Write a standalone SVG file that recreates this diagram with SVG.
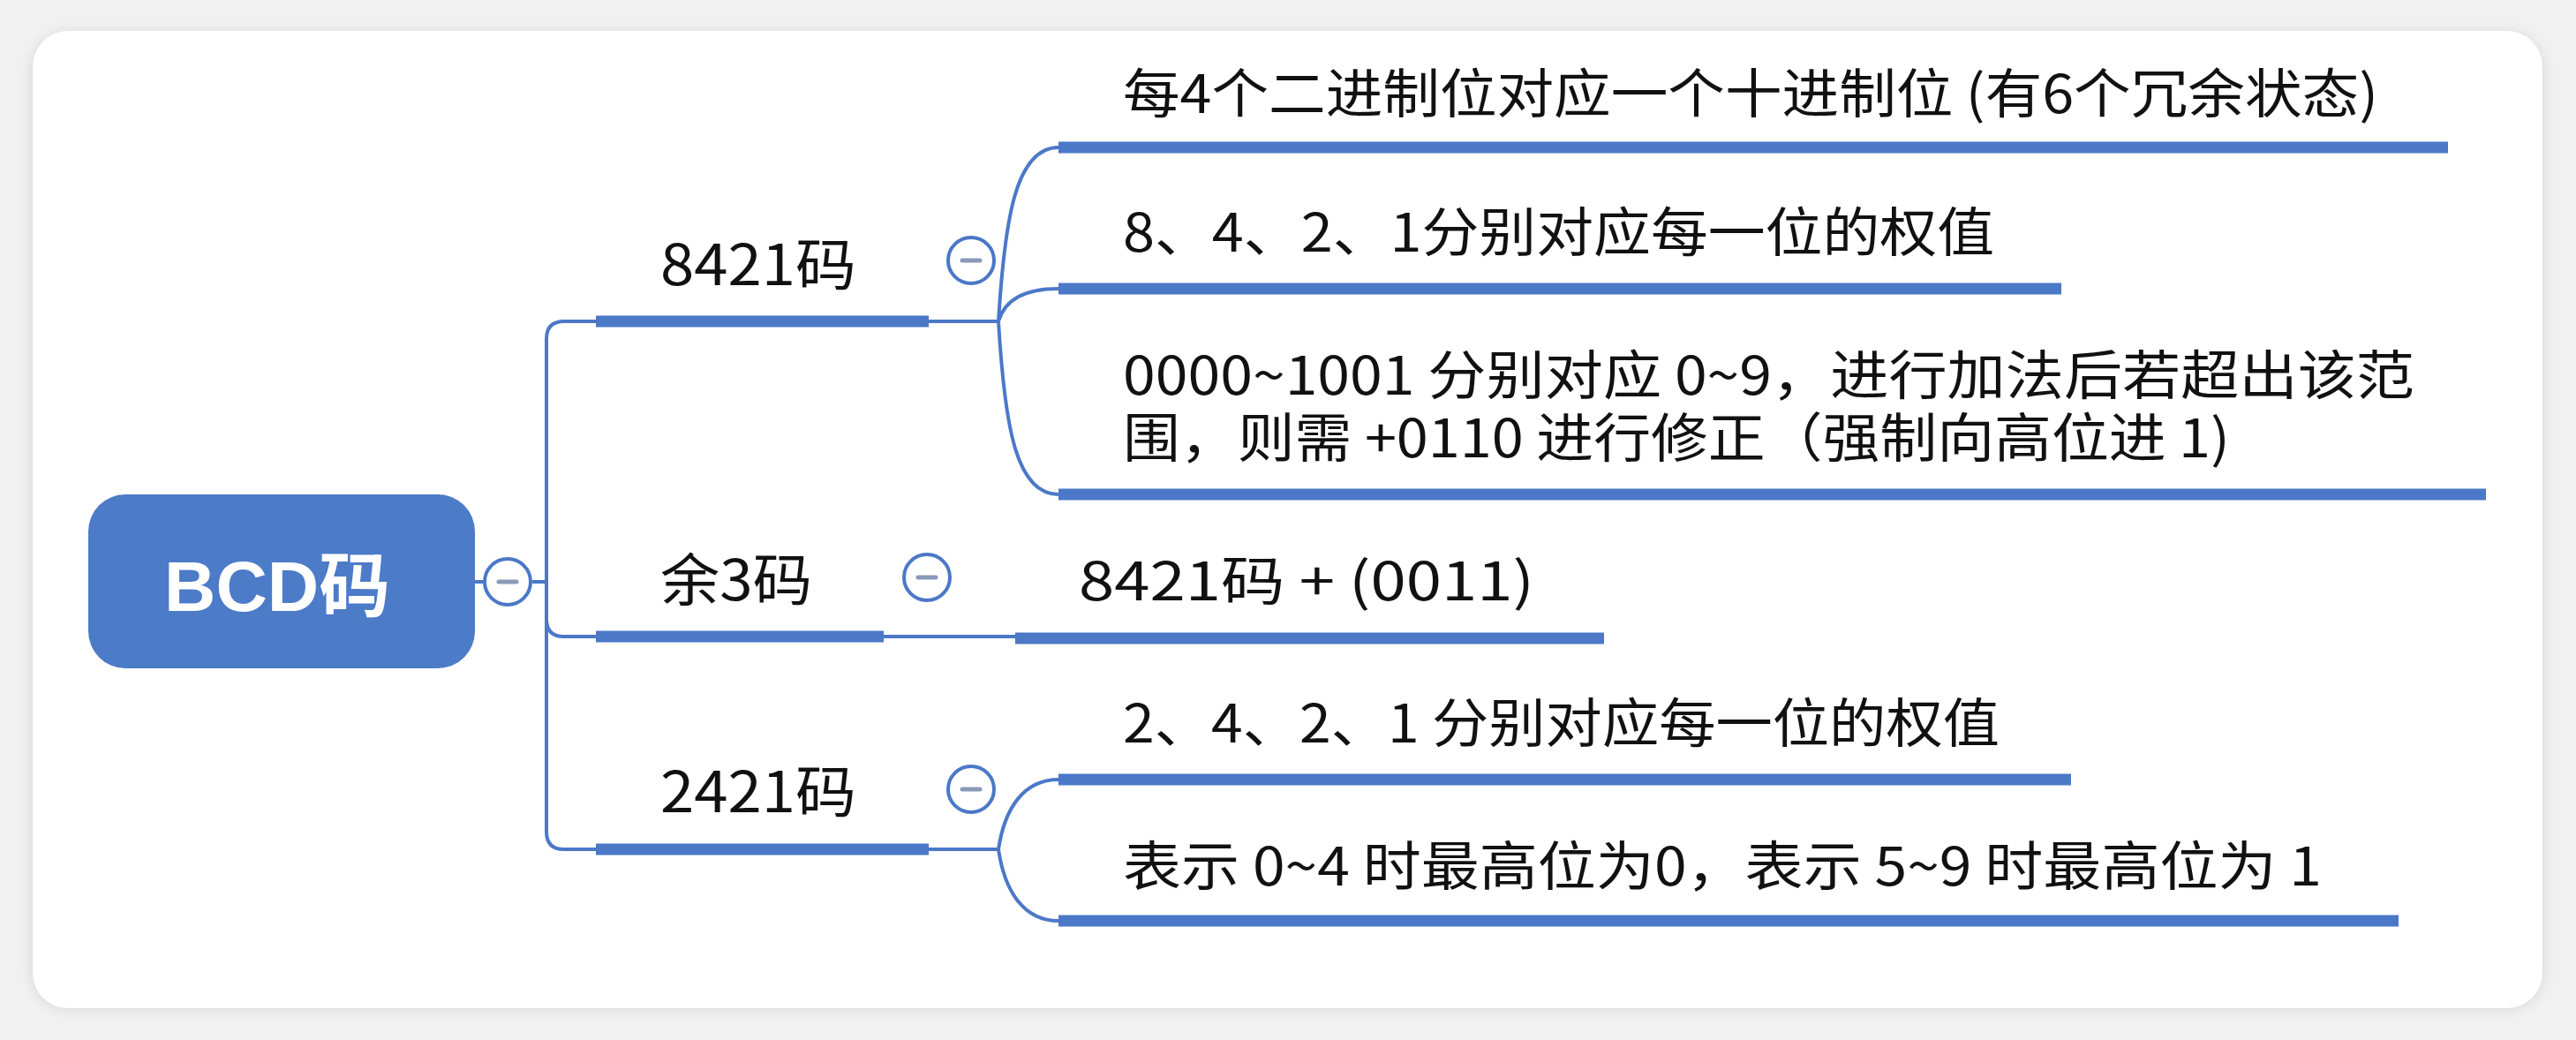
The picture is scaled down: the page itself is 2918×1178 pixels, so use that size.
<svg xmlns="http://www.w3.org/2000/svg" width="2918" height="1178" viewBox="0 0 2918 1178">
<defs>
<filter id="sh" x="-5%" y="-5%" width="110%" height="110%"><feGaussianBlur stdDeviation="8"/></filter>
</defs>
<style>
.t{font-family:"Noto Sans CJK SC","Liberation Sans",sans-serif;fill:#111;font-size:60px}
.b{font-size:64px}
.thick{stroke:#4B78C7;stroke-width:13;fill:none}
.thin{stroke:#4B78C7;stroke-width:4;fill:none}
.tog circle{fill:#fff;stroke:#4B78C7;stroke-width:4}
.tog line{stroke:#8A9AB8;stroke-width:5;stroke-linecap:round}
</style>
<rect width="2918" height="1178" fill="#f1f1f2"/>
<rect x="37" y="38" width="2843" height="1104" rx="40" fill="#000" opacity="0.12" filter="url(#sh)"/>
<rect x="37" y="35" width="2843" height="1107" rx="40" fill="#fff"/>
<g id="connectors">
<path class="thin" d="M538,659 H548 M603,659 H619 M619,659 V384 Q619,364 639,364 H675 M619,659 V942 Q619,962 639,962 H675 M619,659 V701 Q619,721 639,721 H675"/>
<path class="thin" d="M1052,364 H1131 M1001,721 H1150 M1052,962 H1131"/>
<path class="thin" d="M1131,364 C1138,250 1150,167 1199,167 M1131,364 C1138,340 1160,327 1199,327 M1131,364 C1138,480 1150,560 1199,560"/>
<path class="thin" d="M1131,962 C1138,915 1160,883 1199,883 M1131,962 C1138,1010 1160,1043 1199,1043"/>
</g>
<g id="root">
<rect x="100" y="560" width="438" height="197" rx="42" fill="#4C7BC8"/>
<text x="186" y="692" textLength="256" lengthAdjust="spacingAndGlyphs" font-family="Liberation Sans,Noto Sans CJK SC,sans-serif" font-weight="bold" font-size="80" fill="#fff">BCD码</text>
<g class="tog"><circle cx="575" cy="659" r="26"/><line x1="565" y1="659" x2="585" y2="659"/></g>
</g>
<g id="b8421">
<line class="thick" x1="675" y1="364" x2="1052" y2="364"/>
<text class="t b" x="748" y="323" textLength="222" lengthAdjust="spacingAndGlyphs">8421码</text>
<g class="tog"><circle cx="1100" cy="295" r="26"/><line x1="1090" y1="295" x2="1110" y2="295"/></g>
</g>
<g id="byu3">
<line class="thick" x1="675" y1="721" x2="1001" y2="721"/>
<text class="t b" x="748" y="680" textLength="172" lengthAdjust="spacingAndGlyphs">余3码</text>
<g class="tog"><circle cx="1050" cy="654" r="26"/><line x1="1040" y1="654" x2="1060" y2="654"/></g>
</g>
<g id="b2421">
<line class="thick" x1="675" y1="962" x2="1052" y2="962"/>
<text class="t b" x="748" y="920" textLength="222" lengthAdjust="spacingAndGlyphs">2421码</text>
<g class="tog"><circle cx="1100" cy="894" r="26"/><line x1="1090" y1="894" x2="1110" y2="894"/></g>
</g>
<g id="leaf1">
<line class="thick" x1="1199" y1="167" x2="2773" y2="167"/>
<text class="t" x="1272" y="128" textLength="1422" lengthAdjust="spacingAndGlyphs">每4个二进制位对应一个十进制位 (有6个冗余状态)</text>
</g>
<g id="leaf2">
<line class="thick" x1="1199" y1="327" x2="2335" y2="327"/>
<text class="t" x="1272" y="285" textLength="987" lengthAdjust="spacingAndGlyphs">8、4、2、1分别对应每一位的权值</text>
</g>
<g id="leaf3">
<line class="thick" x1="1199" y1="560" x2="2816" y2="560"/>
<text class="t" x="1272" y="447" textLength="1463" lengthAdjust="spacingAndGlyphs">0000~1001 分别对应 0~9，进行加法后若超出该范</text>
<text class="t" x="1272" y="518" textLength="1254" lengthAdjust="spacingAndGlyphs">围，则需 +0110 进行修正（强制向高位进 1)</text>
</g>
<g id="leaf6">
<line class="thick" x1="1150" y1="723" x2="1817" y2="723"/>
<text class="t" x="1222" y="680" textLength="516" lengthAdjust="spacingAndGlyphs">8421码 + (0011)</text>
</g>
<g id="leaf4">
<line class="thick" x1="1199" y1="883" x2="2346" y2="883"/>
<text class="t" x="1272" y="841" textLength="993" lengthAdjust="spacingAndGlyphs">2、4、2、1 分别对应每一位的权值</text>
</g>
<g id="leaf5">
<line class="thick" x1="1199" y1="1043" x2="2717" y2="1043"/>
<text class="t" x="1272" y="1003" textLength="1358" lengthAdjust="spacingAndGlyphs">表示 0~4 时最高位为0，表示 5~9 时最高位为 1</text>
</g>
</svg>
